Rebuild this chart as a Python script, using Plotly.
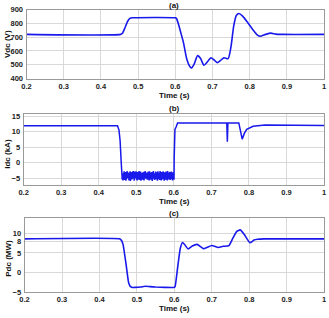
import numpy as np
import plotly.graph_objects as go

# ---------------- data ----------------
x_tickvals = [0.2, 0.3, 0.4, 0.5, 0.6, 0.7, 0.8, 0.9, 1.0]
x_ticktext = ["0.2", "0.3", "0.4", "0.5", "0.6", "0.7", "0.8", "0.9", "1"]

# (a) DC voltage
t_vdc = [0.2, 0.453, 0.458, 0.465, 0.472, 0.478, 0.485, 0.6, 0.603, 0.609, 0.616, 0.622,
         0.631, 0.640, 0.644, 0.650, 0.660, 0.668, 0.677, 0.686, 0.696, 0.705, 0.713,
         0.722, 0.731, 0.742, 0.750, 0.757, 0.764, 0.771, 0.781, 0.795, 0.808, 0.821,
         0.828, 0.843, 0.857, 0.870, 0.888, 1.0]
vdc = [720, 720, 728, 770, 815, 836, 840, 840, 836, 790, 720, 660,
       540, 484, 477, 500, 566, 545, 496, 520, 551, 533, 515,
       532, 551, 544, 635, 780, 857, 871, 852, 804, 756, 715,
       706, 720, 729, 722, 720, 720]

# (b) DC current
t_idc_a = [0.2, 0.450, 0.454, 0.457, 0.460]
idc_a = [11.9, 11.9, 10.5, 7.0, 0.0]
idc_noise = [-3.0, -5.3, -3.6, -5.6, -3.3, -4.6, -2.7, -5.5, -4.1, -5.0,
             -2.9, -5.7, -3.9, -5.2, -2.6, -4.4, -3.0, -4.8, -3.5, -5.6,
             -3.2, -5.1, -2.7, -5.8, -4.0, -4.9, -2.9, -5.3, -3.3, -4.5,
             -2.6, -5.0, -3.8, -5.7, -2.8, -4.2, -3.2, -4.9, -2.7, -5.4,
             -3.6, -5.6, -2.9, -4.7, -3.4, -5.3, -2.6, -5.5, -4.0, -4.8,
             -2.8, -5.7, -3.2, -5.1, -3.7, -5.4, -3.1, -4.4, -2.9, -5.6,
             -3.3, -5.2, -2.6, -4.6, -3.0, -4.9, -3.9, -5.3, -3.2, -5.4,
             -2.8, -4.7, -3.4, -5.6, -2.7, -5.0, -3.9, -5.4, -3.1, -4.5,
             -2.9, -5.8, -3.5, -5.1, -2.6, -4.8, -3.3, -5.5, -4.1, -5.0,
             -2.8, -5.3, -3.0, -4.6, -3.6, -5.7, -2.7, -5.2, -3.4, -4.9,
             -3.1, -5.5, -2.6, -4.4, -3.8, -5.6, -2.9, -5.0, -3.2, -5.3,
             -2.7, -4.7, -3.5, -5.7, -3.0, -5.1, -4.0, -5.4, -2.8, -4.8,
             -3.3, -5.6, -2.6, -5.0, -3.7, -5.3, -3.1, -4.5, -2.9, -5.5,
             -3.4, -5.2, -2.8, -4.9, -3.6, -5.6, -3.0, -5.1, -3.2, -5.4]
t_idc_b = [0.601, 0.603, 0.606, 0.610, 0.741, 0.7425, 0.744, 0.773, 0.782,
           0.788, 0.794, 0.811, 0.843, 1.0]
idc_b = [2.0, 10.7, 11.5, 12.8, 12.8, 6.8, 12.8, 12.8, 7.6,
         9.5, 10.7, 11.7, 12.1, 12.0]

# (c) DC power
t_pdc = [0.2, 0.455, 0.459, 0.463, 0.471, 0.478, 0.483, 0.488, 0.495, 0.51, 0.522, 0.535,
         0.55, 0.575, 0.599,
         0.602, 0.609, 0.616, 0.622, 0.628, 0.637, 0.648, 0.661, 0.678, 0.700,
         0.717, 0.730, 0.746, 0.757, 0.767, 0.776, 0.787, 0.802, 0.813, 0.822, 0.84, 1.0]
pdc = [8.6, 8.6, 8.2, 7.2, 2.2, -2.6, -3.6, -3.8, -3.8, -3.7, -3.5, -3.6,
       -3.7, -3.8, -3.8,
       -3.6, 1.4, 6.2, 7.7, 7.1, 6.0, 6.8, 7.2, 6.1, 6.9,
       6.4, 6.7, 6.9, 8.9, 10.5, 10.9, 9.7, 7.6, 8.3, 8.5, 8.6, 8.6]

# ---------------- figure ----------------
W, H = 329, 318
BLUE = "rgb(25,25,235)"
FONT = "Liberation Sans, Arial, sans-serif"

t_idc_noise = np.round(0.4615 + 0.001 * np.arange(len(idc_noise)), 4).tolist()
t_idc = t_idc_a + t_idc_noise + t_idc_b
idc = idc_a + idc_noise + idc_b

fig = go.Figure()
fig.add_trace(go.Scatter(x=t_vdc, y=vdc, xaxis="x", yaxis="y", mode="lines",
                         line=dict(color=BLUE, width=1.6, shape="spline", smoothing=0.6)))
fig.add_trace(go.Scatter(x=t_idc, y=idc, xaxis="x2", yaxis="y2", mode="lines",
                         line=dict(color=BLUE, width=1.5, simplify=False)))
fig.add_trace(go.Scatter(x=t_pdc, y=pdc, xaxis="x3", yaxis="y3", mode="lines",
                         line=dict(color=BLUE, width=1.6, shape="spline", smoothing=0.4)))


def px_x(p):
    return p / W


def px_y(p):
    return 1 - p / H


common = dict(showgrid=True, gridcolor="#d9d9d9", gridwidth=1, showline=True,
              linecolor="#9a9a9a", linewidth=1, mirror=True, ticks="", zeroline=False,
              tickfont=dict(family=FONT, size=7.5, color="#222", weight="bold"))

panels = [
    # left, top, bottom, yrange, yticks
    (22, 5.7, 76.7, [400, 900], [400, 500, 600, 700, 800, 900]),
    (19, 112.7, 186, [-7, 15.8], [-5, 0, 5, 10, 15]),
    (20, 220, 296.5, [-5, 14], [-5, 0, 5, 8, 10]),
]
layout = dict(width=W, height=H, margin=dict(l=0, r=0, t=0, b=0),
              paper_bgcolor="white", plot_bgcolor="white", showlegend=False)
for i, (left, top, bot, yr, yt) in enumerate(panels):
    s = "" if i == 0 else str(i + 1)
    layout["xaxis" + s] = dict(common, domain=[px_x(left), px_x(326)], range=[0.2, 1.0],
                               tickvals=x_tickvals, ticktext=x_ticktext,
                               anchor="y" + s, ticklabelstandoff=0)
    layout["yaxis" + s] = dict(common, domain=[px_y(bot), px_y(top)], range=yr,
                               tickvals=yt, anchor="x" + s, ticklabelstandoff=1)
fig.update_layout(**layout)

ann_font = dict(family=FONT, size=8, color="#111", weight="bold")
annotations = []
for label, y in [("Time (s)", 94), ("Time (s)", 203), ("Time (s)", 313.5)]:
    annotations.append(dict(text=label, x=px_x(173), y=px_y(y), xref="paper", yref="paper",
                            showarrow=False, xanchor="center", yanchor="middle", font=ann_font))
for label, y in [("(a)", 1.5), ("(b)", 107.5), ("(c)", 215.5)]:
    annotations.append(dict(text=label, x=px_x(173), y=px_y(y), xref="paper", yref="paper",
                            showarrow=False, xanchor="center", yanchor="middle", font=ann_font))
for label, y in [("Vdc (V)", 41), ("Idc (kA)", 154), ("Pdc (MW)", 262)]:
    annotations.append(dict(text=label, x=px_x(3.2), y=px_y(y), xref="paper", yref="paper",
                            showarrow=False, xanchor="center", yanchor="middle",
                            textangle=-90, font=ann_font))
fig.update_layout(annotations=annotations)

fig.write_html("out.html")
